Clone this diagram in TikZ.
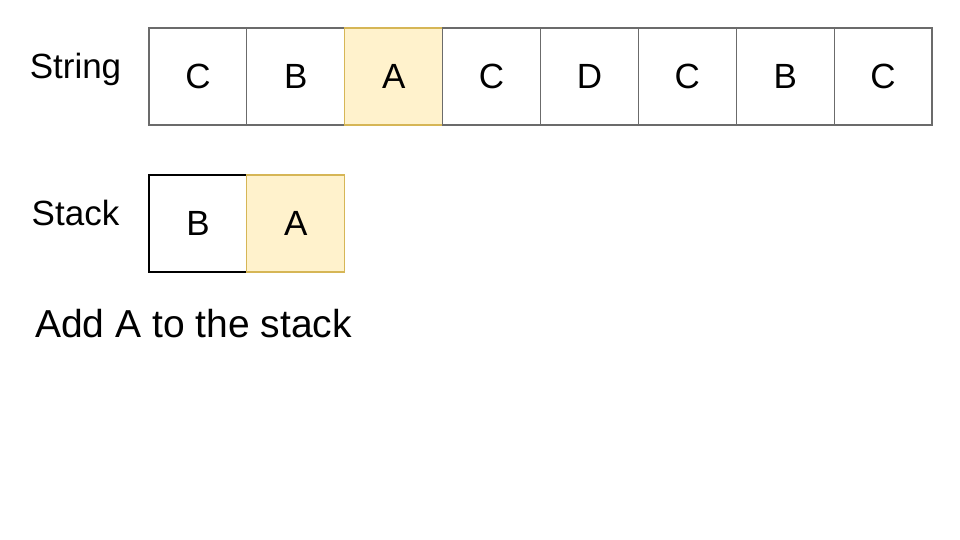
\documentclass[tikz,border=0pt]{standalone}
\usepackage{fontspec}
\setmainfont{Liberation Sans}
\usetikzlibrary{positioning}
\definecolor{cellline}{HTML}{6B6B6B}
\definecolor{hlfill}{HTML}{FFF2CC}
\definecolor{hlline}{HTML}{D6B656}
\tikzset{
  cell/.style     = {draw=cellline, line width=1.2pt, rectangle, inner sep=0pt,
                     outer sep=0pt, minimum width=97.875pt, minimum height=97pt,
                     font=\fontsize{35}{40}\selectfont},
  hlcell/.style   = {cell, draw=hlline, fill=hlfill},
  rowlabel/.style = {font=\fontsize{35}{40}\selectfont},
}

\begin{document}
\begin{tikzpicture}[x=1pt, y=-1pt]
\useasboundingbox (0,0) rectangle (960,540);
% ---- string row ----
\node[cell, anchor=north west] (s1) at (149,28) {C};
\foreach \t/\sty [count=\i from 2] in {B/cell,A/hlcell,C/cell,D/cell,C/cell,B/cell,C/cell} {
  \pgfmathtruncatemacro\j{\i-1}
  \node[\sty, right=0pt of s\j] (s\i) {\t};
}
% ---- stack row ----
\node[cell, draw=black, anchor=north west] (k1) at (149,175) {B};
\node[hlcell, right=0pt of k1] (k2) {A};
% ---- labels ----
\node[rowlabel, anchor=base] (lstring) at (75.5,79) {String};
\node[rowlabel, anchor=base] (lstack) at (75.5,225) {Stack};
\node[font=\fontsize{39}{44}\selectfont, anchor=base west, inner sep=0pt] (msg) at (35,337) {Add A to the stack};
\end{tikzpicture}
\end{document}
